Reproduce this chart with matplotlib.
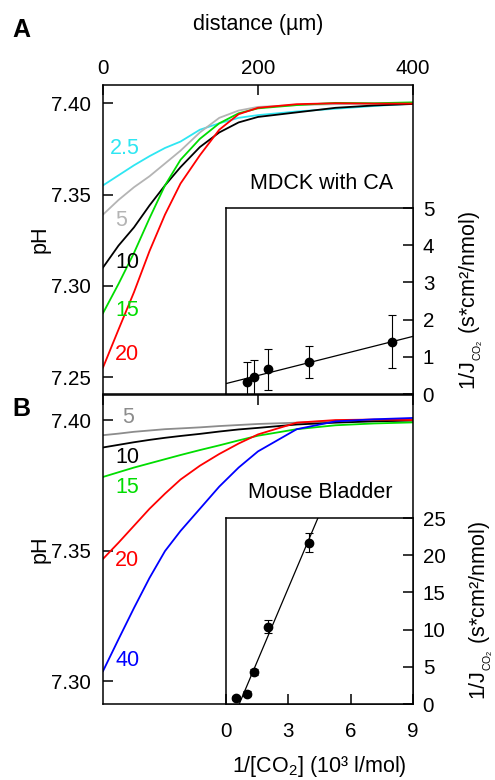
import numpy as np
import matplotlib
matplotlib.use("Agg")
import matplotlib.pyplot as plt

plt.rcParams['font.family'] = ['Liberation Sans', 'DejaVu Sans']
plt.rcParams['mathtext.fontset'] = 'custom'
plt.rcParams['mathtext.rm'] = 'Liberation Sans'

# pH profiles vs distance from the surface (um)
distance = [0, 20, 40, 60, 80, 100, 125, 150, 175, 200, 250, 300, 350, 400]

mdck_labels = ["2.5", "5", "10", "15", "20"]
mdck_colors = ["#2ee6f2", "#b4b4b4", "black", "#00dd00", "#ff0000"]
mdck_ph = [
    [7.355, 7.3605, 7.366, 7.371, 7.3755, 7.379, 7.3855, 7.389, 7.392, 7.3935, 7.3955, 7.397, 7.3985, 7.3998],
    [7.339, 7.347, 7.354, 7.360, 7.367, 7.374, 7.384, 7.392, 7.396, 7.398, 7.399, 7.3995, 7.3998, 7.400],
    [7.310, 7.322, 7.332, 7.344, 7.355, 7.365, 7.376, 7.384, 7.3895, 7.3925, 7.395, 7.3975, 7.3988, 7.3996],
    [7.285, 7.301, 7.318, 7.337, 7.355, 7.369, 7.3805, 7.389, 7.3945, 7.3972, 7.399, 7.4002, 7.400, 7.4005],
    [7.2552, 7.276, 7.2965, 7.319, 7.339, 7.356, 7.3715, 7.3855, 7.394, 7.3975, 7.3995, 7.400, 7.3998, 7.3998],
]
mdck_label_ph = [7.375, 7.336, 7.313, 7.2864, 7.2623]
mdck_label_x = [9, 15.5, 15.5, 15.5, 15.5]

bladder_labels = ["5", "10", "15", "20", "40"]
bladder_colors = ["#8c8c8c", "black", "#00dd00", "#ff0000", "#0000ff"]
bladder_ph = [
    [7.3942, 7.3948, 7.3955, 7.396, 7.3965, 7.3968, 7.3972, 7.3977, 7.3981, 7.3985, 7.399, 7.3997, 7.3999, 7.400],
    [7.3895, 7.3905, 7.3915, 7.3924, 7.3932, 7.3939, 7.3947, 7.3956, 7.3964, 7.397, 7.3983, 7.399, 7.3995, 7.3998],
    [7.3782, 7.380, 7.3818, 7.3834, 7.385, 7.3866, 7.3885, 7.3903, 7.3922, 7.394, 7.3965, 7.398, 7.3987, 7.3991],
    [7.3468, 7.353, 7.3595, 7.366, 7.3718, 7.3772, 7.3825, 7.387, 7.391, 7.3945, 7.399, 7.400, 7.4002, 7.400],
    [7.3038, 7.316, 7.328, 7.3395, 7.3498, 7.3575, 7.366, 7.3745, 7.3818, 7.388, 7.3965, 7.3995, 7.4003, 7.4008],
]
bladder_label_ph = [7.401, 7.3856, 7.374, 7.346, 7.3079]
bladder_label_x = [24.5, 15.5, 15.5, 15.5, 15.5]

# 1/J_CO2 vs 1/[CO2] with linear fits
mdck_inv_co2 = [1, 1.33, 2, 4, 8]
mdck_inv_j = [0.33, 0.46, 0.67, 0.85, 1.41]
mdck_inv_j_err = [0.52, 0.46, 0.55, 0.43, 0.72]
mdck_fit = (0.141, 0.28)  # slope, intercept

bladder_inv_co2 = [0.5, 1, 1.33, 2, 4]
bladder_inv_j = [0.8, 1.4, 4.3, 10.4, 21.7]
bladder_inv_j_err = [0.3, 0.3, 0.4, 0.9, 1.3]
bladder_fit = (6.6, -4.2)

FS = 15.5    # labels and annotations
TFS = 14.8   # tick labels
W, H = 495, 780
fig = plt.figure(figsize=(W / 100, H / 100), dpi=100)


def box(l, t, r, b):
    return [l / W, 1 - b / H, (r - l) / W, (b - t) / H]


axA = fig.add_axes(box(103, 85, 413, 394))
axB = fig.add_axes(box(103, 395, 413, 704))
inA = fig.add_axes(box(226, 208, 413, 394))
inB = fig.add_axes(box(226, 518, 413, 704))

for ax, curves, colors, labels, lx, ly in [
        (axA, mdck_ph, mdck_colors, mdck_labels, mdck_label_x, mdck_label_ph),
        (axB, bladder_ph, bladder_colors, bladder_labels, bladder_label_x, bladder_label_ph)]:
    for ph, c, lab, x, y in zip(curves, colors, labels, lx, ly):
        ax.plot(distance, ph, color=c, lw=1.3)
        ax.text(x, y, lab, color=c, fontsize=FS, ha='left', va='center')
    ax.set_xlim(0, 400)
    ax.set_xticks([0, 200, 400])
    ax.xaxis.tick_top()
    ax.tick_params(direction='in', length=7, width=1.1, labelsize=TFS,
                   top=True, bottom=False, right=False)
    ax.tick_params(axis='x', pad=5)
    ax.tick_params(axis='y', pad=9)
    ax.set_ylabel("pH", fontsize=FS)
    ax.yaxis.set_label_coords(-0.17, 0.5)
    for s in ax.spines.values():
        s.set_linewidth(1.1)

axA.set_ylim(7.2407, 7.41)
axA.set_yticks([7.25, 7.30, 7.35, 7.40])
axA.set_yticklabels(["7.25", "7.30", "7.35", "7.40"])
axA.set_xlabel("distance (µm)", fontsize=FS)
axA.xaxis.set_label_position('top')
axA.xaxis.set_label_coords(0.5, 1.178)
axA.text(0.935, 0.68, "MDCK with CA", transform=axA.transAxes,
         fontsize=FS, ha='right', va='center')

axB.set_ylim(7.2912, 7.4096)
axB.set_yticks([7.30, 7.35, 7.40])
axB.set_yticklabels(["7.30", "7.35", "7.40"])
axB.tick_params(labeltop=False)
axB.text(0.935, 0.683, "Mouse Bladder", transform=axB.transAxes,
         fontsize=FS, ha='right', va='center')

for ax, xs, ys, es, fit, ymax, lab_x in [
        (inA, mdck_inv_co2, mdck_inv_j, mdck_inv_j_err, mdck_fit, 5, 1.235),
        (inB, bladder_inv_co2, bladder_inv_j, bladder_inv_j_err, bladder_fit, 25, 1.29)]:
    ax.errorbar(xs, ys, yerr=es, fmt='o', color='black', ms=6,
                elinewidth=0.8, capsize=3, capthick=0.8)
    fx = np.array([0, 9])
    ax.plot(fx, fit[0] * fx + fit[1], color='black', lw=0.9)
    ax.set_xlim(0, 9)
    ax.set_ylim(0, ymax)
    ax.yaxis.tick_right()
    ax.yaxis.set_label_position('right')
    ax.tick_params(axis='y', direction='in', length=7, width=1.1,
                   labelsize=TFS, pad=7, left=False)
    ax.set_ylabel(r"1/J$_{\mathregular{_{CO_2}}}$ (s*cm²/nmol)", fontsize=FS)
    ax.yaxis.set_label_coords(lab_x, 0.5)
    for s in ax.spines.values():
        s.set_linewidth(1.1)

inA.set_yticks(range(0, 6))
inA.set_xticks([])

inB.set_yticks(range(0, 26, 5))
inB.set_xticks([0, 3, 6, 9])
inB.tick_params(axis='x', direction='in', length=7, width=1.1,
                labelsize=TFS, pad=13)
inB.set_xlabel("1/[CO$_2$] (10³ l/mol)", fontsize=FS)
inB.xaxis.set_label_coords(0.5, -0.268)

fig.text(0.025, 0.9615, "A", fontsize=18, fontweight='bold', va='center')
fig.text(0.025, 0.4756, "B", fontsize=18, fontweight='bold', va='center')

fig.savefig("out.png", dpi=100)
